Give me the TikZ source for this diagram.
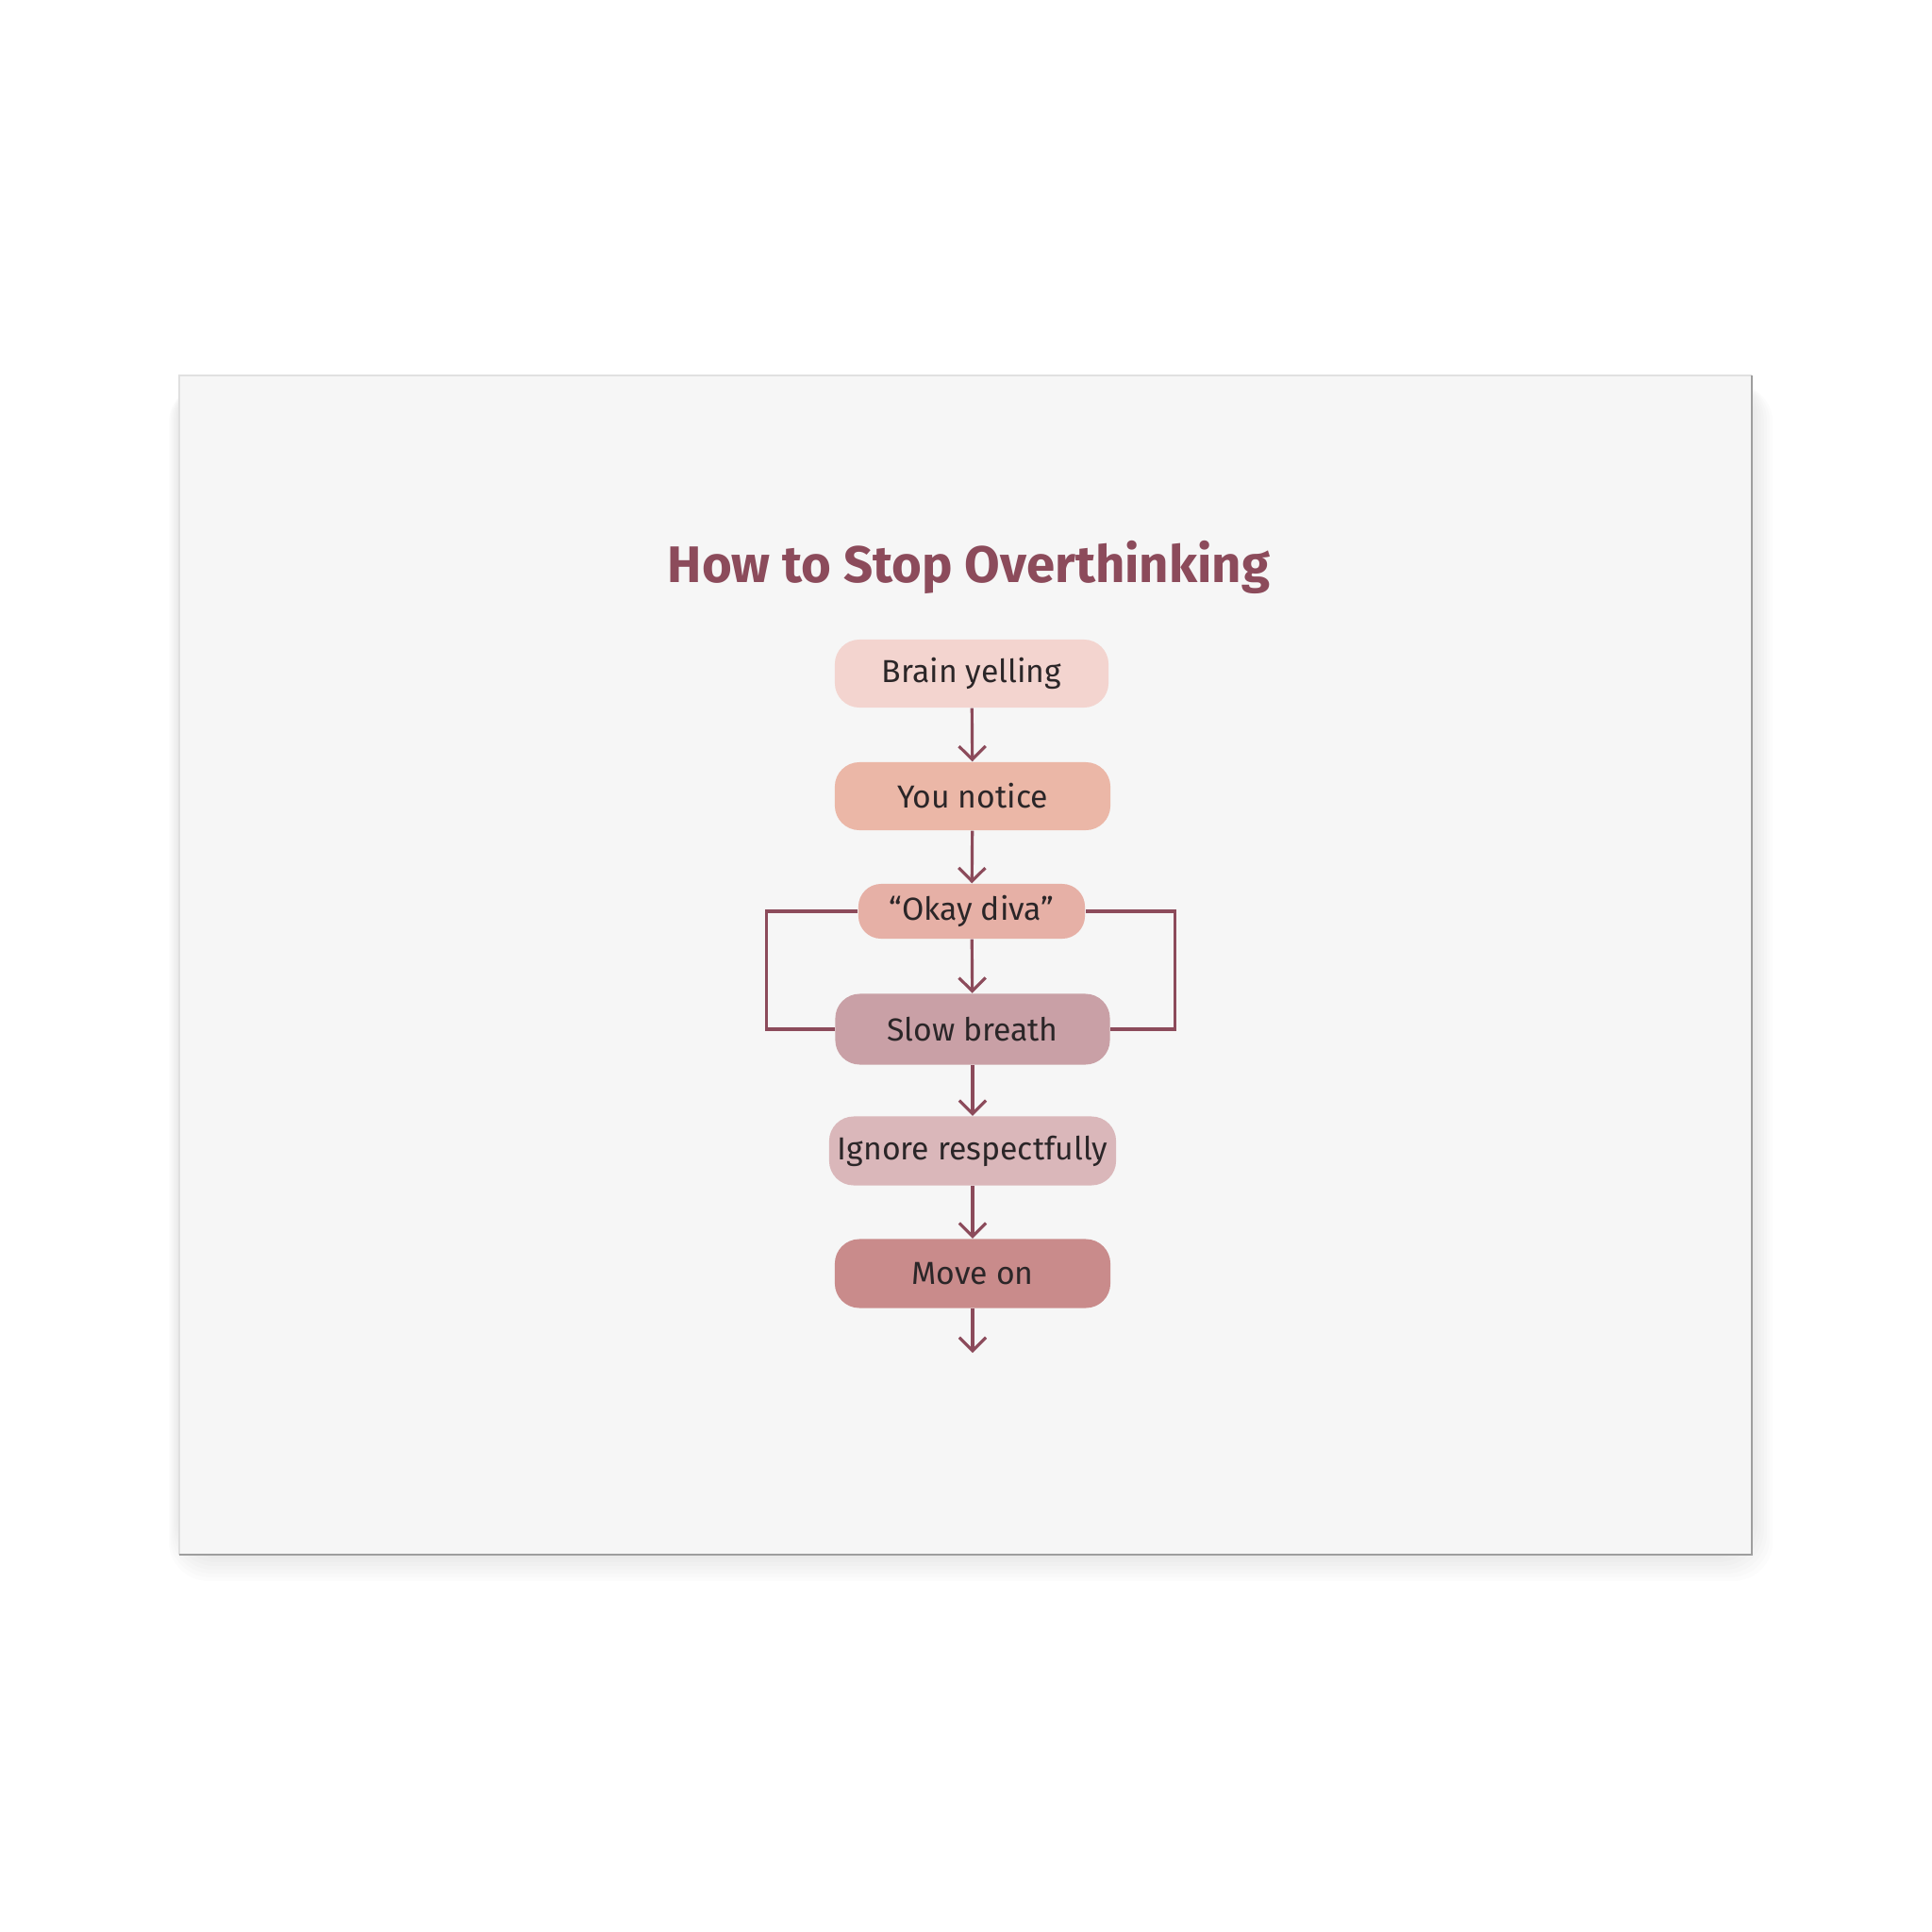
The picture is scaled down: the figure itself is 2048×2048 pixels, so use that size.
\documentclass[tikz,border=0pt]{standalone}
\usepackage{fontspec}
\setmainfont{Fira Sans}
\usetikzlibrary{arrows.meta}

\definecolor{mauve}{HTML}{8C4B5B}
\definecolor{inkdark}{HTML}{2B2628}
\definecolor{canvasbg}{HTML}{F6F6F6}
\definecolor{fillA}{HTML}{F3D4CF}
\definecolor{fillB}{HTML}{EBB7A7}
\definecolor{fillC}{HTML}{E6B0A6}
\definecolor{fillD}{HTML}{C9A0A6}
\definecolor{fillE}{HTML}{DAB7BA}
\definecolor{fillF}{HTML}{C98B8B}

\tikzstyle{stage} = [rounded corners=0.26cm, inner sep=0pt, minimum height=0.72cm, text=inkdark, font=\fontsize{9.6}{11}\selectfont]
\tikzstyle{flow} = [draw=mauve, line width=0.9pt, -{Straight Barb[length=4pt,width=8pt]}]
\tikzstyle{loop} = [draw=mauve, line width=0.9pt]

\begin{document}
\begin{tikzpicture}[x=0.01cm, y=-0.01cm]
	\useasboundingbox (0,0) rectangle (2048,2048);
	\fill[white] (0,0) rectangle (2048,2048);
	% canvas with soft shadow
	\foreach \s in {4,8,...,28}
		\fill[black, opacity=0.012, rounded corners=12] (190-\s*0.4,398+\s*0.3) rectangle (1857+\s*0.8,1648+\s);
	\fill[canvasbg] (190,398) rectangle (1857,1648);
	\draw[black!12, line width=0.6pt] (190,1648) -- (190,398) -- (1857,398);
	\draw[black!38, line width=0.8pt] (190,1648) -- (1857,1648) -- (1857,398);
	
	\node[text=mauve, font=\fontsize{15.5}{19}\bfseries] (title) at (1027,601) {How to Stop Overthinking};
	
	\node[stage, fill=fillA, minimum width=2.90cm] (n1) at (1030,714) {Brain yelling};
	\node[stage, fill=fillB, minimum width=2.92cm] (n2) at (1031,844) {You notice};
	\node[stage, fill=fillC, minimum width=2.40cm, minimum height=0.58cm, rounded corners=0.24cm] (n3) at (1030,966) {“Okay diva”};
	\node[stage, fill=fillD, minimum width=2.91cm, minimum height=0.75cm] (n4) at (1031,1091) {Slow breath};
	\node[stage, fill=fillE, minimum width=3.04cm, minimum height=0.73cm] (n5) at (1031,1220) {Ignore respectfully};
	\node[stage, fill=fillF, minimum width=2.92cm, minimum height=0.73cm] (n6) at (1031,1350) {Move on};
	\coordinate (out) at (1031,1434);
	
	\draw[flow] (n1) -- (n2);
	\draw[flow] (n2) -- (n3);
	\draw[flow] (n3) -- (n4);
	\draw[flow] (n4) -- (n5);
	\draw[flow] (n5) -- (n6);
	\draw[flow] (n6) -- (out);
	
	\draw[loop] (n3.west) -- ++(-97,0) |- (n4.west);
	\draw[loop] (n3.east) -- ++(95,0) |- (n4.east);
\end{tikzpicture}
\end{document}
